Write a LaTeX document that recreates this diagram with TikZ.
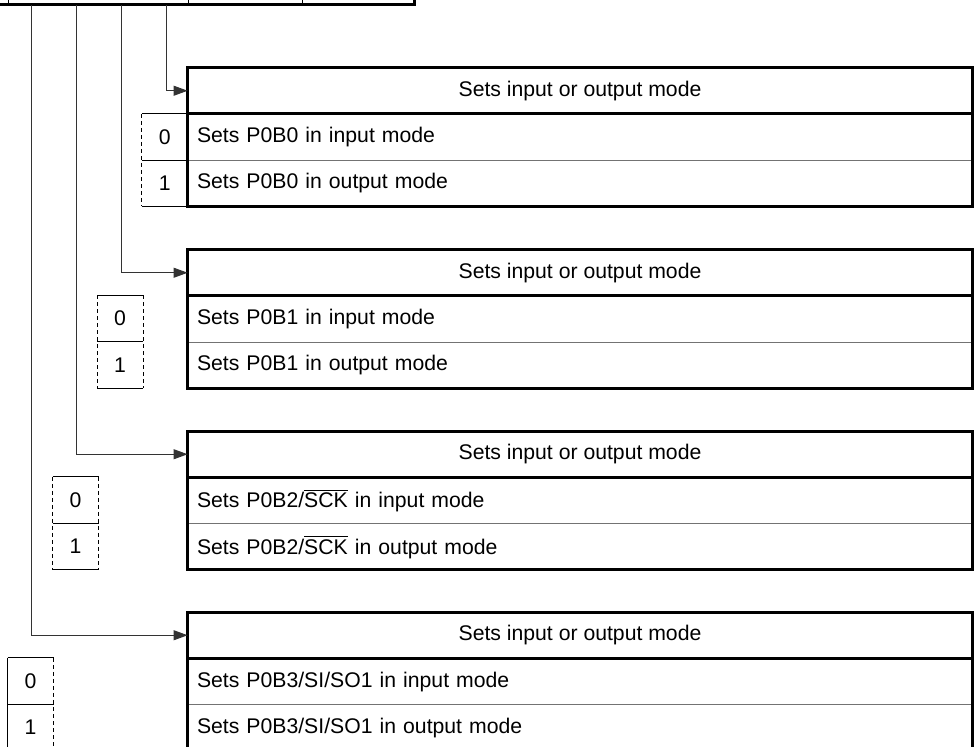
\documentclass[tikz,border=0pt]{standalone}
\usepackage{fontspec}
\setmainfont{Liberation Sans}
\usetikzlibrary{arrows.meta}
\begin{document}
\begin{tikzpicture}[x=0.5pt,y=-0.5pt,
  txt/.style={font=\fontsize{10.6}{12}\selectfont},
  cell/.style={txt,minimum width=392pt,minimum height=22.75pt,inner sep=0pt},
  rowcell/.style={cell,text width=383pt,align=left,inner xsep=4.5pt},
  bitcell/.style={txt,minimum width=22.5pt,minimum height=22.75pt,inner sep=0pt},
  frame/.style={line width=1.5pt},
  thinrule/.style={line width=0.5pt,black!55},
  conn/.style={line width=0.5pt,black!80,-{Triangle[length=7pt,width=5pt]}},
  dashside/.style={line width=0.5pt,dash pattern=on 2pt off 1.5pt},
  solidside/.style={line width=0.5pt}
]
\useasboundingbox (0,0) rectangle (974,747);
\clip (0,0) rectangle (974,747);

% register (bottom part visible)
\draw[frame] (-10,5) -- (414,5) -- (414,-10);
\draw[solidside] (8,-10) -- (8,5);
\draw[solidside] (188,-10) -- (188,5);
\draw[solidside] (302,-10) -- (302,5);
\coordinate (c0) at (166,5);
\coordinate (c1) at (121.5,5);
\coordinate (c2) at (76.5,5);
\coordinate (c3) at (31.5,5);

% ---------- box 1
\node[cell] (t1) at (580,90.75) {Sets input or output mode};
\node[rowcell,anchor=north] (a1) at (t1.south) {Sets P0B0 in input mode};
\node[rowcell,anchor=north] (b1) at (a1.south) {Sets P0B0 in output mode};
\draw[thinrule] (a1.south west) -- (a1.south east);
\draw[frame] (t1.south west) -- (t1.south east);
\draw[frame] (t1.north west) rectangle (b1.south east);
\node[bitcell,anchor=north east] (z1) at (a1.north west) {0};
\node[bitcell,anchor=north] (o1) at (z1.south) {1};
\draw[solidside] (z1.north west) -- (z1.north east)
                 (z1.south west) -- (z1.south east)
                 (o1.south west) -- (o1.south east);
\draw[dashside] (z1.north west) -- (o1.south west);

% ---------- box 2
\node[cell] (t2) at (580,272.75) {Sets input or output mode};
\node[rowcell,anchor=north] (a2) at (t2.south) {Sets P0B1 in input mode};
\node[rowcell,anchor=north] (b2) at (a2.south) {Sets P0B1 in output mode};
\draw[thinrule] (a2.south west) -- (a2.south east);
\draw[frame] (t2.south west) -- (t2.south east);
\draw[frame] (t2.north west) rectangle (b2.south east);
\node[bitcell,anchor=north east] (z2) at (143,295.5) {0};
\node[bitcell,anchor=north] (o2) at (z2.south) {1};
\draw[solidside] (z2.north west) -- (z2.north east)
                 (z2.south west) -- (z2.south east)
                 (o2.south west) -- (o2.south east);
\draw[dashside] (z2.north west) -- (o2.south west)
                (z2.north east) -- (o2.south east);

% ---------- box 3
\node[cell] (t3) at (580,454.25) {Sets input or output mode};
\node[rowcell,anchor=north] (a3) at (t3.south) {Sets P0B2/$\overline{\mbox{SCK}}$ in input mode};
\node[rowcell,anchor=north] (b3) at (a3.south) {Sets P0B2/$\overline{\mbox{SCK}}$ in output mode};
\draw[thinrule] (a3.south west) -- (a3.south east);
\draw[frame] (t3.south west) -- (t3.south east);
\draw[frame] (t3.north west) rectangle (b3.south east);
\node[bitcell,anchor=north east] (z3) at (98.5,477) {0};
\node[bitcell,anchor=north] (o3) at (z3.south) {1};
\draw[solidside] (z3.north west) -- (z3.north east)
                 (z3.south west) -- (z3.south east)
                 (o3.south west) -- (o3.south east);
\draw[dashside] (z3.north west) -- (o3.south west)
                (z3.north east) -- (o3.south east);

% ---------- box 4
\node[cell] (t4) at (580,635.25) {Sets input or output mode};
\node[rowcell,anchor=north] (a4) at (t4.south) {Sets P0B3/SI/SO1 in input mode};
\node[rowcell,anchor=north] (b4) at (a4.south) {Sets P0B3/SI/SO1 in output mode};
\draw[thinrule] (a4.south west) -- (a4.south east);
\draw[frame] (t4.south west) -- (t4.south east);
\draw[frame] (t4.north west) rectangle (b4.south east);
\node[bitcell,anchor=north east] (z4) at (53.5,658) {0};
\node[bitcell,anchor=north] (o4) at (z4.south) {1};
\draw[solidside] (z4.north west) -- (z4.north east)
                 (z4.south west) -- (z4.south east)
                 (o4.south west) -- (o4.south east)
                 (z4.north west) -- (o4.south west);
\draw[dashside] (z4.north east) -- (o4.south east);

% ---------- connectors
\draw[conn] (c0) |- (t1.west);
\draw[conn] (c1) |- (t2.west);
\draw[conn] (c2) |- (t3.west);
\draw[conn] (c3) |- (t4.west);
\end{tikzpicture}
\end{document}
